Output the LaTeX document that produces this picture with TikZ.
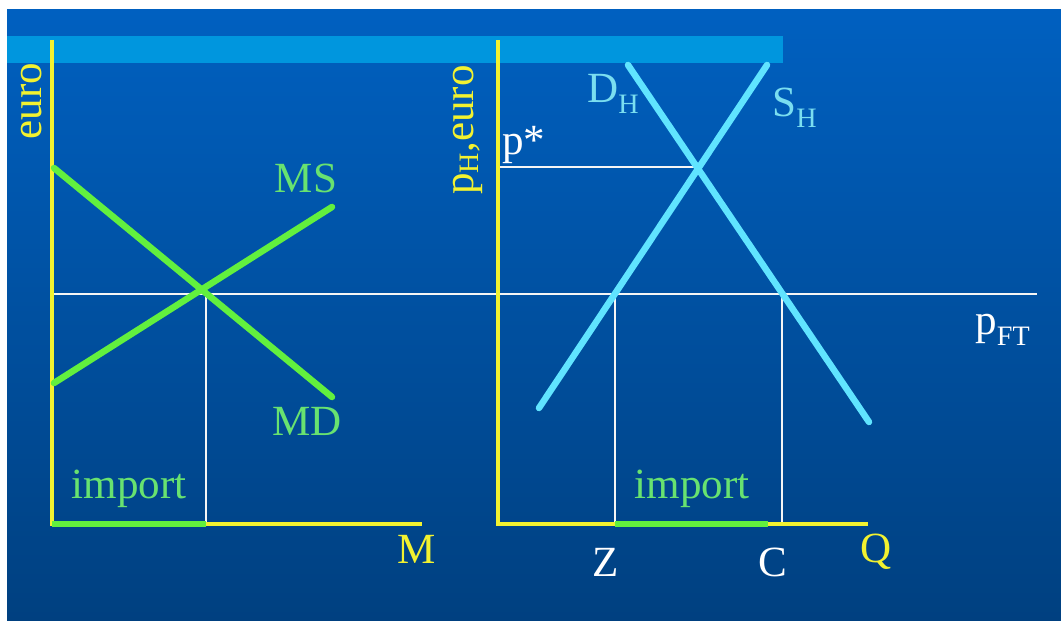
\documentclass[tikz,border=0pt]{standalone}
\usepackage{fontspec}
\setmainfont{Liberation Serif}
\usetikzlibrary{positioning}

\definecolor{bgtop}{RGB}{0,96,192}
\definecolor{bgbot}{RGB}{0,64,128}
\definecolor{bandblue}{RGB}{0,150,222}
\definecolor{axisyellow}{RGB}{242,242,48}
\definecolor{linegreen}{RGB}{98,240,62}
\definecolor{textgreen}{RGB}{104,226,112}
\definecolor{linecyan}{RGB}{96,228,255}
\definecolor{textcyan}{RGB}{122,222,240}

\newcommand{\lowsub}[2][6pt]{\raisebox{-#1}{\fontsize{16}{18}\selectfont #2}}

\begin{document}
\begin{tikzpicture}[
  x=0.02cm, y=-0.02cm,
  axis/.style={draw=axisyellow, line width=0.08cm},
  curve/.style={line width=0.13cm, line cap=round},
  guide/.style={draw=white!92!gray, line width=0.6pt},
  importbar/.style={draw=linegreen, line width=0.12cm},
  lbl/.style={font=\fontsize{24.5}{29}\selectfont, inner sep=0pt, anchor=base},
]
  \useasboundingbox (0,0) rectangle (1061,621);

  % Background
  \fill[white] (0,0) rectangle (1061,621);
  \shade[top color=bgtop, bottom color=bgbot] (7,10) rectangle (1061,621);
  \fill[bandblue] (7,36) rectangle (783,63);

  % Points
  \coordinate (Ltop) at (52,40);
  \coordinate (Lorig) at (52,524);
  \coordinate (Lend) at (422,524);
  \coordinate (Rtop) at (498,40);
  \coordinate (Rorig) at (498,524);
  \coordinate (Rend) at (868,524);
  \coordinate (ftL) at (52,294);
  \coordinate (ftEnd) at (1037,294);
  \coordinate (Lstar) at (206,294);
  \coordinate (Lfoot) at (206,524);
  \coordinate (pstarL) at (498,167);
  \coordinate (Rstar) at (699,167);
  \coordinate (Zpt) at (615,294);
  \coordinate (Zfoot) at (615,524);
  \coordinate (Cpt) at (782,294);
  \coordinate (Cfoot) at (782,524);
  \coordinate (impEnd) at (768,524);
  \coordinate (MDa) at (54,168);
  \coordinate (MDb) at (332,397);
  \coordinate (MSa) at (54,383);
  \coordinate (MSb) at (332,207);
  \coordinate (DHa) at (628,65);
  \coordinate (DHb) at (869,422);
  \coordinate (SHa) at (767,65);
  \coordinate (SHb) at (539,408);

  % Guide lines
  \draw[guide] (ftL) -- (ftEnd);
  \draw[guide] (Lstar) -- (Lfoot);
  \draw[guide] (pstarL) -- (Rstar);
  \draw[guide] (Zpt) -- (Zfoot);
  \draw[guide] (Cpt) -- (Cfoot);

  % Axes
  \draw[axis] (Ltop) -- (Lorig) -- (Lend);
  \draw[axis] (Rtop) -- (Rorig) -- (Rend);
  \draw[importbar] (Lorig) -- (Lfoot);
  \draw[importbar] (Zfoot) -- (impEnd);

  % Curves
  \draw[curve, linegreen] (MDa) -- (MDb);
  \draw[curve, linegreen] (MSa) -- (MSb);
  \draw[curve, linecyan] (DHa) -- (DHb);
  \draw[curve, linecyan] (SHa) -- (SHb);

  % Labels
  \node[lbl, text=axisyellow, rotate=90] (euro) at (41,101) {euro};
  \node[lbl, text=axisyellow, rotate=90] (pH) at (473,130) {p\lowsub[3pt]{H},euro};
  \node[lbl, text=textgreen] (MSlbl) at (306,193) {MS};
  \node[lbl, text=textgreen] (MDlbl) at (307,435) {MD};
  \node[lbl, text=textgreen] (importL) at (129,498) {import};
  \node[lbl, text=textgreen] (importR) at (692,498) {import};
  \node[lbl, text=axisyellow] (Mlbl) at (417,563) {M};
  \node[lbl, text=axisyellow] (Qlbl) at (876,562) {Q};
  \node[lbl, text=white] (Zlbl) at (606,576) {Z};
  \node[lbl, text=white] (Clbl) at (773,576) {C};
  \node[lbl, anchor=base west, text=white] (pstar) at (502,155) {p*};
  \node[lbl, anchor=base west, text=textcyan] (DHlbl) at (587,103) {D\lowsub{H}};
  \node[lbl, anchor=base west, text=textcyan] (SHlbl) at (772,117) {S\lowsub{H}};
  \node[lbl, anchor=base west, text=white] (pFT) at (975,335) {p\lowsub{FT}};
\end{tikzpicture}
\end{document}
